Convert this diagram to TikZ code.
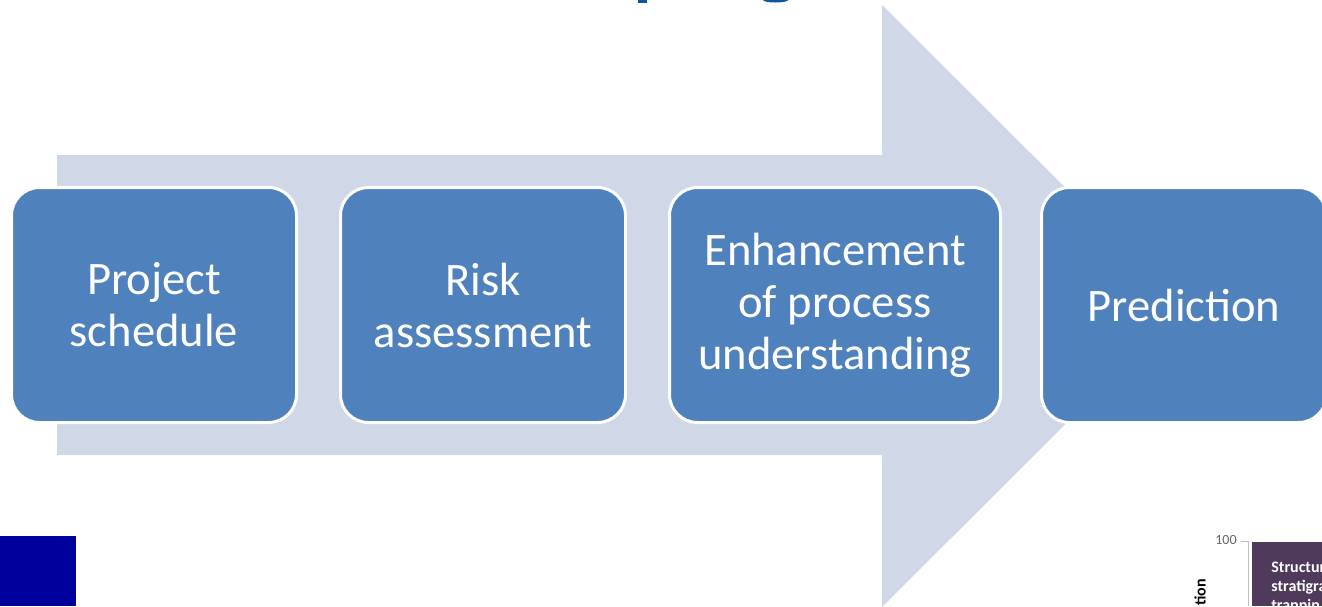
\documentclass[tikz,border=0pt]{standalone}
\usepackage{fontspec}
\setmainfont{Carlito}
\usetikzlibrary{positioning}
\definecolor{stageblue}{RGB}{79,129,189}
\definecolor{arrowgrey}{RGB}{208,216,232}
\definecolor{titleblue}{RGB}{16,84,160}
\definecolor{logoblue}{RGB}{0,0,156}
\definecolor{chartplum}{RGB}{80,58,92}

\begin{document}
\begin{tikzpicture}[x=0.5pt, y=-0.5pt, node distance=20.5pt,
    stage/.style={draw=white, line width=1.5pt, rounded corners=14pt, fill=stageblue, text=white, align=center, minimum width=142.5pt, minimum height=117.5pt, inner sep=0pt, font=\fontsize{23.3}{26}\selectfont}]
    \clip (0,0) rectangle (1322,606);
    % big background arrow
    \fill[arrowgrey] (57,155) -- (882,155) -- (882,5) -- (1184,306) -- (882,607) -- (882,455) -- (57,455) -- cycle;
    % the four stages
    \node[stage] (sched) at (154,305) {Project\\schedule};
    \node[stage, right=of sched] (risk) {Risk\\assessment};
    \node[stage, right=of risk, minimum width=165.5pt] (proc) {Enhancement\\of process\\understanding};
    \node[stage, right=19pt of proc] (pred) {Prediction};
    % title descenders and logo corner
    \fill[titleblue] (638,0) rectangle (647,2.5);
    \fill[titleblue] (775.5,0) ellipse [x radius=12.5, y radius=2.5];
    \fill[logoblue] (0,536) rectangle (76,606);
    % corner of the chart
    \draw[black!25] (1241,541) -- (1248,541) -- (1248,606);
    \node[anchor=east, text=black!60, font=\fontsize{7}{8}\selectfont, inner sep=0pt] (ymax) at (1237,540) {100};
    \node[rotate=90, anchor=east, font=\bfseries\fontsize{8}{9.5}\selectfont, inner sep=0pt] (ylabel) at (1200,579) {tion};
    \fill[chartplum] (1252,542) rectangle (1322,606);
    \node[anchor=north west, align=left, text=white, font=\bfseries\fontsize{8}{9.5}\selectfont, inner sep=0pt] (trap) at (1271,562) {Structur\\stratigra\\trappin};
\end{tikzpicture}
\end{document}
